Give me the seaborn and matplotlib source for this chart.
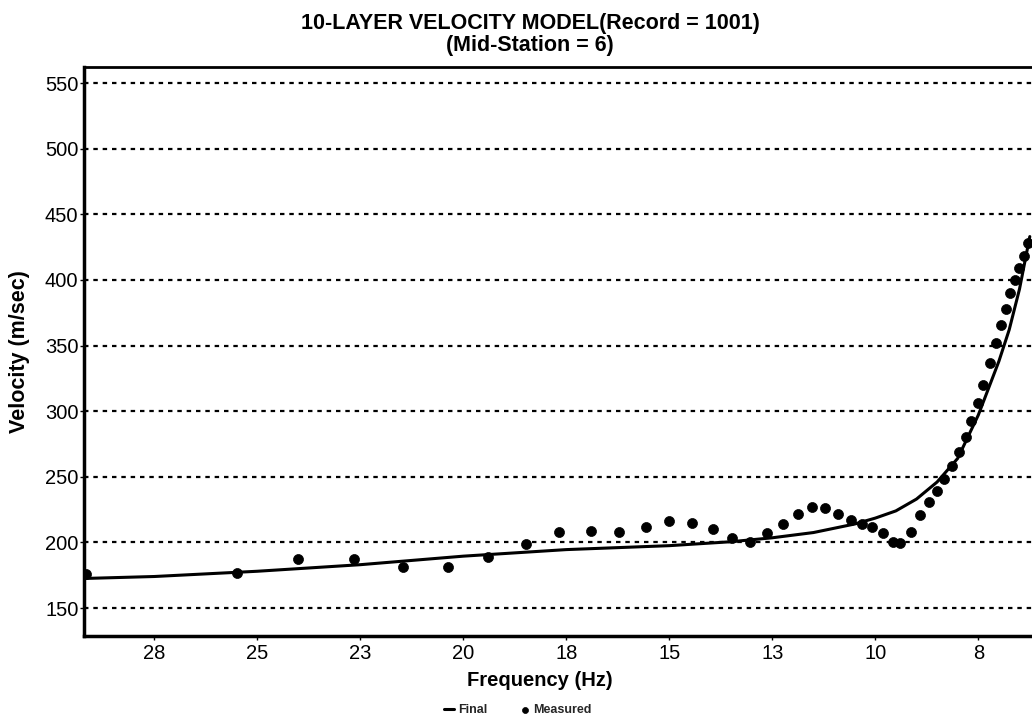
import math
import numpy as np
import pandas as pd
import matplotlib
matplotlib.use("Agg")
import matplotlib.pyplot as plt
import seaborn as sns

# ---- data ----
measured_freq = [29.15, 25.49, 24.01, 22.65, 21.46, 20.37, 19.40, 18.48, 17.67, 16.90,
                 16.22, 15.57, 15.00, 14.45, 13.95, 13.49, 13.04, 12.62, 12.23, 11.87,
                 11.54, 11.22, 10.90, 10.60, 10.33, 10.07, 9.82, 9.58, 9.40, 9.14,
                 8.92, 8.70, 8.51, 8.33, 8.15, 7.98, 7.81, 7.67, 7.51, 7.39,
                 7.22, 7.07, 6.95, 6.82, 6.72, 6.62, 6.50, 6.40, 6.30]
measured_vel = [176, 177, 187, 187, 181, 181, 189, 199, 208, 209,
                208, 212, 216, 215, 210, 203, 200.5, 207, 214, 221.5,
                227, 226, 221.5, 217, 214, 212, 207, 200.5, 199.3, 207.7,
                221, 231, 239.5, 248, 258, 269, 280.5, 292.7, 306, 320,
                337, 352, 365.6, 378, 390, 400, 409, 418, 428]

final_freq = [29.2, 27.5, 25.0, 22.5, 20.0, 17.5, 15.0, 13.5, 12.5, 11.5,
              10.5, 10.0, 9.5, 9.0, 8.5, 8.0, 7.5, 7.0, 6.75, 6.5, 6.25]
final_vel = [172.5, 174, 178, 183, 189.5, 194.5, 197.5, 200.5, 203.5, 207.5,
             214, 218.5, 224, 233, 246, 264, 297, 338, 362, 393, 433]

xtick_values = [27.5, 25, 22.5, 20, 17.5, 15, 12.5, 10, 7.5]
xtick_labels = ["28", "25", "23", "20", "18", "15", "13", "10", "8"]
ytick_values = [150, 200, 250, 300, 350, 400, 450, 500, 550]

title_text = "10-LAYER VELOCITY MODEL(Record = 1001)\n(Mid-Station = 6)"
xlabel_text = "Frequency (Hz)"
ylabel_text = "Velocity (m/sec)"

df_final = pd.DataFrame({"freq": final_freq, "vel": final_vel})
df_meas = pd.DataFrame({"freq": measured_freq, "vel": measured_vel})

sns.set_theme(style="white")
plt.rcParams["font.family"] = ["Liberation Sans", "DejaVu Sans"]

W, H = 1032, 719
AX_L, AX_R, AX_T, AX_B = 84, 1034, 67, 636
fig = plt.figure(figsize=(W / 100, H / 100), dpi=100)
ax = fig.add_axes([AX_L / W, (H - AX_B) / H, (AX_R - AX_L) / W, (AX_B - AX_T) / H])

sns.lineplot(data=df_final, x="freq", y="vel", ax=ax, color="black", linewidth=2.2,
             sort=False, label="Final", legend=False, zorder=3)
sns.scatterplot(data=df_meas, x="freq", y="vel", ax=ax, color="black", s=52,
                marker="o", edgecolor="black", linewidth=0.5, label="Measured",
                legend=False, zorder=4, clip_on=True)

ax.set_xlim(29.206, 6.148)
ax.set_ylim(128.67, 562.2)

ax.set_xticks(xtick_values)
ax.set_xticklabels(xtick_labels)
ax.set_yticks(ytick_values)

for yv in ytick_values:
    ax.axhline(yv, color="black", linewidth=1.6, linestyle=(0, (2.0, 2.2)), zorder=1)

ax.tick_params(axis="both", which="both", direction="out", length=3, width=1,
               color="black", labelsize=14.5, bottom=True, left=True)
ax.tick_params(axis="x", pad=3)
ax.tick_params(axis="y", pad=1)
for lbl in ax.get_xticklabels() + ax.get_yticklabels():
    lbl.set_color("black")

for side in ["left", "bottom", "top"]:
    ax.spines[side].set_visible(True)
    ax.spines[side].set_color("black")
ax.spines["left"].set_linewidth(2.5)
ax.spines["bottom"].set_linewidth(2.5)
ax.spines["top"].set_linewidth(2.0)
ax.spines["right"].set_visible(False)

axw, axh = AX_R - AX_L, AX_B - AX_T
ax.set_xlabel(xlabel_text, fontsize=14.5, fontweight="bold", color="black")
ax.xaxis.set_label_coords((540 - AX_L) / axw, -(681 - AX_B) / axh)
ax.xaxis.label.set_va("center")
ax.set_ylabel(ylabel_text, fontsize=15.5, fontweight="bold", color="black")
ax.yaxis.set_label_coords(-(AX_L - 20) / axw, (AX_B - 352) / axh)
ax.yaxis.label.set_va("center")

fig.text(530 / W, 1 - 13 / H, title_text, ha="center", va="top", fontsize=15.5,
         fontweight="bold", color="black", linespacing=1.08)

handles, labels = ax.get_legend_handles_labels()
fig.legend(handles, labels, loc="center", bbox_to_anchor=(518 / W, 1 - 710 / H),
           ncol=2, frameon=False, handlelength=0.8, handletextpad=0.3,
           columnspacing=2.6, markerscale=0.6, prop={"weight": "bold", "size": 9})

fig.savefig("out.png", dpi=100)
